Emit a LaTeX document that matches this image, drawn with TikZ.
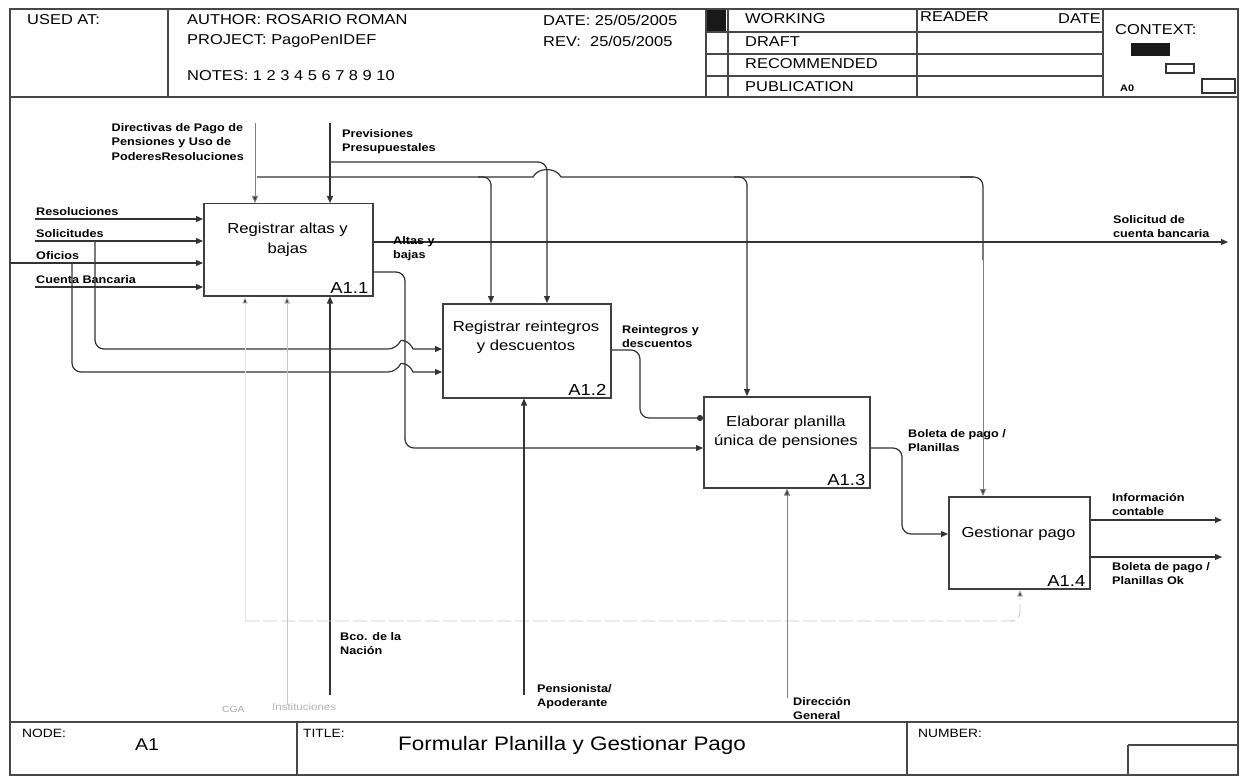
\documentclass[tikz,border=0pt]{standalone}
\usepackage{fontspec}
\setmainfont{Liberation Sans}[FakeStretch=1.15]
\usetikzlibrary{arrows.meta}
\begin{document}
\begin{tikzpicture}[x=1pt,y=-1pt,
  frame/.style={draw=black!72, line width=1.4pt},
  ln/.style={draw=black!80, line width=1.2pt},
  arr/.style={ln, -{Triangle[length=7pt,width=6pt]}},
  grayarr/.style={draw=black!50, line width=0.8pt, -{Triangle[length=7pt,width=6pt,fill=black!75]}},
  faintln/.style={draw=black!22, line width=0.9pt},
  faintarr/.style={faintln, -{Triangle[length=7pt,width=6pt,fill=black!75]}},
  box/.style={draw=black!75, line width=1.5pt, fill=white, inner sep=0pt},
  boxtxt/.style={font=\fontsize{14.5}{19.5}\selectfont, align=center, inner sep=0pt},
  boxnum/.style={font=\fontsize{16}{18}\selectfont, anchor=south east, inner sep=0pt},
  lbl/.style={font=\fontsize{11}{14.5}\selectfont\bfseries, align=left, inner sep=0pt},
  hdr/.style={font=\fontsize{14.3}{16}\selectfont, anchor=west, inner sep=0pt},
  ftr/.style={font=\fontsize{12}{14}\selectfont, anchor=west, inner sep=0pt}
]
\useasboundingbox (0,0) rectangle (1245,778);
\fill[white] (0,0) rectangle (1245,778);

% ---------- frame ----------
\draw[frame] (10,9) rectangle (1238,775);
\draw[frame] (10,97) -- (1238,97);
\draw[frame] (10,722) -- (1238,722);

% ---------- header ----------
\draw[frame] (168,9) -- (168,97);
\draw[frame] (706,9) -- (706,97);
\draw[frame] (728,9) -- (728,97);
\draw[frame] (917,9) -- (917,97);
\draw[frame] (1103,9) -- (1103,97);
\foreach \yy in {32,54,76} \draw[frame] (706,\yy) -- (1103,\yy);
\fill[black!90] (707,10) rectangle (726,31);

\node[hdr] (usedat) at (27,20) {USED AT:};
\node[hdr] (author) at (187,20) {AUTHOR: ROSARIO ROMAN};
\node[hdr] (project) at (187,41) {PROJECT: PagoPenIDEF};
\node[hdr] (notes) at (187,76) {NOTES: 1 2 3 4 5 6 7 8 9 10};
\node[hdr] (date) at (543,20) {DATE: 25/05/2005};
\node[hdr] (rev) at (543,41) {REV:\ \ 25/05/2005};
\node[hdr] (working) at (745,19) {WORKING};
\node[hdr] (draft) at (745,42) {DRAFT};
\node[hdr] (recom) at (745,64) {RECOMMENDED};
\node[hdr] (publ) at (745,87) {PUBLICATION};
\node[hdr] (reader) at (920,17) {READER};
\node[hdr, anchor=east] (rdate) at (1101,19) {DATE};
\node[hdr] (context) at (1115,30) {CONTEXT:};
\fill[black!90] (1131,43) rectangle (1170,56);
\draw[ln] (1166,64) rectangle (1194,73);
\draw[ln] (1202,79) rectangle (1235,93);
\node[font=\fontsize{9.5}{10}\selectfont\bfseries, anchor=west, inner sep=0pt] (a0) at (1120,88) {A0};

% ---------- footer ----------
\draw[frame] (297,722) -- (297,775);
\draw[frame] (907,722) -- (907,775);
\draw[frame] (1128,745) -- (1128,775) (1128,745) -- (1238,745);
\node[ftr] (nodelbl) at (22,733) {NODE:};
\node[font=\fontsize{17}{19}\selectfont, anchor=west, inner sep=0pt] (nodeval) at (135,745) {A1};
\node[ftr] (titlelbl) at (303,733) {TITLE:};
\node[font=\fontsize{19.5}{22}\selectfont, anchor=west, inner sep=0pt] (titleval) at (398,745) {Formular Planilla y Gestionar Pago};
\node[ftr] (numlbl) at (918,733) {NUMBER:};

% ---------- boxes ----------
\node[box, anchor=north west, minimum width=169pt, minimum height=92pt] (a11) at (203,203) {};
\node[box, anchor=north west, minimum width=168pt, minimum height=94pt] (a12) at (442,303) {};
\node[box, anchor=north west, minimum width=166pt, minimum height=91pt] (a13) at (703,396) {};
\node[box, anchor=north west, minimum width=141pt, minimum height=92pt] (a14) at (948,496) {};

\node[boxtxt] (t11) at (287.5,240) {Registrar altas y\\bajas};
\node[boxtxt] (t12) at (526,337) {Registrar reintegros\\y descuentos};
\node[boxtxt] (t13) at (786,432) {Elaborar planilla\\única de pensiones};
\node[boxtxt] (t14) at (1018.5,534) {Gestionar pago};

\node[boxnum] (n11) at ([xshift=-5pt,yshift=3pt]a11.south east) {A1.1};
\node[boxnum] (n12) at ([xshift=-5pt,yshift=3pt]a12.south east) {A1.2};
\node[boxnum] (n13) at ([xshift=-5pt,yshift=3pt]a13.south east) {A1.3};
\node[boxnum] (n14) at ([xshift=-5pt,yshift=3pt]a14.south east) {A1.4};

% ---------- inputs of A1.1 ----------
\coordinate (iRes) at (35,219);
\coordinate (iSol) at (35,241);
\coordinate (iOfi) at (10,263);
\coordinate (iCue) at (35,287);
\draw[arr] (iRes) -- (iRes -| a11.west);
\draw[arr] (iSol) -- (iSol -| a11.west);
\draw[arr] (iOfi) -- (iOfi -| a11.west);
\draw[arr] (iCue) -- (iCue -| a11.west);
\node[lbl, anchor=south west] (lRes) at (36,216) {Resoluciones};
\node[lbl, anchor=south west] (lSol) at (36,238) {Solicitudes};
\node[lbl, anchor=south west] (lOfi) at (36,260) {Oficios};
\node[lbl, anchor=south west] (lCue) at (36,284) {Cuenta Bancaria};

% branches to A1.2 with hops over x=405
\coordinate (j1) at (95,349);
\coordinate (j2) at (72,372);
\draw[arr] (95,241) [rounded corners=9pt] -- (j1) -- (397,349) [sharp corners]
   .. controls (401,340) and (409,340) .. (413,349) -- (j1 -| a12.west);
\draw[arr] (72,263) [rounded corners=9pt] -- (j2) -- (397,372) [sharp corners]
   .. controls (401,363) and (409,363) .. (413,372) -- (j2 -| a12.west);

% ---------- controls ----------
\coordinate (cD) at (255,123);
\coordinate (cP) at (330,123);
\draw[grayarr] (cD) -- (cD |- a11.north);
\draw[arr] (cP) -- (cP |- a11.north);
\node[lbl, anchor=north east, align=left] (lDir) at (244,123) {Directivas de Pago de\\Pensiones y Uso de\\PoderesResoluciones};
\node[lbl, anchor=north west] (lPre) at (342,129) {Previsiones\\Presupuestales};

% Previsiones branch to A1.2
\coordinate (bP) at (547,162);
\draw[arr] (330,162) [rounded corners=9pt] -- (bP) -- (bP |- a12.north);

% Directivas branch line (y=177) with hop over x=547
\coordinate (bD1) at (491,177);
\coordinate (bD2) at (747,177);
\coordinate (bD3) at (983,177);
\draw[ln] (257,177) -- (533,177) .. controls (538,167) and (556,167) .. (561,177) -- (973,177);
\draw[arr] (478,177) [rounded corners=8pt] -- (bD1) -- (bD1 |- a12.north);
\draw[arr] (734,177) [rounded corners=8pt] -- (bD2) -- (bD2 |- a13.north);
\draw[ln] (960,177) [rounded corners=9pt] -- (bD3) -- (983,260);
\draw[grayarr] (983,258) -- (bD3 |- a14.north);

% ---------- outputs of A1.1 ----------
\coordinate (oAB) at (1228,242);
\draw[arr] (a11.east |- oAB) -- (oAB);
\node[lbl, anchor=north west] (lAlt) at (393,236) {Altas y\\bajas};
\node[lbl, anchor=south west] (lSCB) at (1113,238) {Solicitud de\\cuenta bancaria};

\coordinate (k1) at (405,272);
\coordinate (k2) at (405,448);
\draw[arr] (a11.east |- k1) [rounded corners=9pt] -- (k1) -- (k2) -- (k2 -| a13.west);

% ---------- A1.2 -> A1.3 ----------
\coordinate (r1) at (640,350);
\coordinate (r2) at (640,418);
\draw[ln, -{Circle[length=6pt]}] (a12.east |- r1) [rounded corners=9pt] -- (r1) -- (r2) -- (r2 -| a13.west);
\node[lbl, anchor=north west] (lRei) at (622,325) {Reintegros y\\descuentos};

% ---------- A1.3 -> A1.4 ----------
\coordinate (p1) at (902,448);
\coordinate (p2) at (902,534);
\draw[arr] (a13.east |- p1) [rounded corners=9pt] -- (p1) -- (p2) -- (p2 -| a14.west);
\node[lbl, anchor=north west] (lBol) at (908,429) {Boleta de pago /\\Planillas};

% ---------- outputs of A1.4 ----------
\coordinate (oInf) at (1222,520);
\coordinate (oBol) at (1222,557);
\draw[arr] (a14.east |- oInf) -- (oInf);
\draw[arr] (a14.east |- oBol) -- (oBol);
\node[lbl, anchor=south west] (lInf) at (1112,516) {Información\\contable};
\node[lbl, anchor=north west] (lBok) at (1112,562) {Boleta de pago /\\Planillas Ok};

% ---------- mechanisms ----------
\coordinate (mB) at (330,695);
\coordinate (mI) at (287,705);
\coordinate (mC) at (245,621);
\coordinate (mP) at (524,695);
\coordinate (mG) at (787,698);
\coordinate (mH) at (1020,621);
\draw[arr] (mB) -- (mB |- a11.south);
\draw[faintarr] (mI) -- (mI |- a11.south);
\draw[draw=black!10, line width=0.8pt, -{Triangle[length=7pt,width=6pt,fill=black!75]}] (mC) -- (mC |- a11.south);
\draw[faintln, dash pattern=on 14pt off 4pt, -{Triangle[length=7pt,width=6pt,fill=black!75]}]
   (mC) [rounded corners=9pt] -- (mH) -- (mH |- a14.south);
\draw[arr] (mP) -- (mP |- a12.south);
\draw[grayarr] (mG) -- (mG |- a13.south);
\node[lbl, anchor=north west] (lBco) at (340,632) {Bco. de la\\Nación};
\node[lbl, anchor=north west, text=black!30, font=\fontsize{10}{12}\selectfont] (lIns) at (272,703) {Instituciones};
\node[lbl, anchor=north west, text=black!35, font=\fontsize{9}{11}\selectfont] (lCga) at (222,706) {CGA};
\node[lbl, anchor=north west] (lPen) at (537,684) {Pensionista/\\Apoderante};
\node[lbl, anchor=north west] (lDg) at (793,697) {Dirección\\General};
\end{tikzpicture}
\end{document}
